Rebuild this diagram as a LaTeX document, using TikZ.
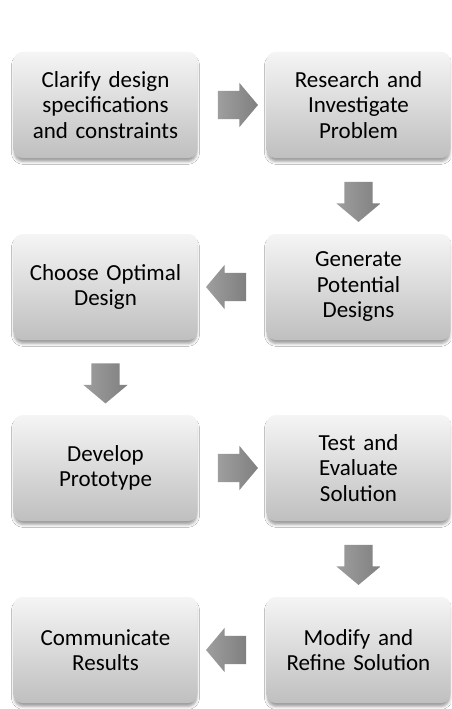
\documentclass[tikz,border=0pt]{standalone}
\usepackage{fontspec}
\setmainfont[WordSpace=0.75]{Carlito}
\usetikzlibrary{shapes.arrows,shadows.blur,calc}
\tikzset{
  stepbox/.style={rounded corners=9pt, minimum width=184pt, minimum height=106pt,
    text width=180pt, align=center, inner sep=0pt,
    top color=black!4, bottom color=black!25, draw=none,
    blur shadow={shadow xshift=0pt, shadow yshift=-4pt, shadow blur radius=3pt, shadow opacity=40, shadow scale=0.99},
    font=\fontsize{23}{25.5}\selectfont},
  flowarrow/.style={single arrow, draw=none, inner xsep=0pt, inner ysep=14pt,
    minimum height=40pt,
    single arrow head extend=8pt, single arrow tip angle=100,
    left color=black!38, right color=black!50}
}
\begin{document}
\begin{tikzpicture}[x=1pt,y=-1pt]
\useasboundingbox (0,0) rectangle (451,709);
\fill[white] (0,0) rectangle (451,709);
\node[stepbox] (n1) at (105.5,105) {Clarify design\\specifications\\and constraints};
\node[stepbox] (n2) at (358.5,105) {Research and\\Investigate\\Problem};
\node[stepbox] (n3) at (105.5,287) {Choose Optimal\\Design};
\node[stepbox] (n4) at (358.5,287) {Generate\\Potential\\Designs};
\node[stepbox] (n5) at (105.5,468) {Develop\\Prototype};
\node[stepbox] (n6) at (358.5,468) {Test and\\Evaluate\\Solution};
\node[stepbox] (n7) at (105.5,650) {Communicate\\Results};
\node[stepbox] (n8) at (358.5,650) {Modify and\\Refine Solution};
\node[flowarrow] (a1) at ($(n1.east)!0.5!(n2.west)$) {};
\node[flowarrow, rotate=-90] (a2) at ($(n2.south)!0.5!(n4.north)$) {};
\node[flowarrow, rotate=180] (a3) at ($(n4.west)!0.5!(n3.east)$) {};
\node[flowarrow, rotate=-90] (a4) at ($(n3.south)!0.5!(n5.north)$) {};
\node[flowarrow] (a5) at ($(n5.east)!0.5!(n6.west)$) {};
\node[flowarrow, rotate=-90] (a6) at ($(n6.south)!0.5!(n8.north)$) {};
\node[flowarrow, rotate=180] (a7) at ($(n8.west)!0.5!(n7.east)$) {};
\end{tikzpicture}
\end{document}
